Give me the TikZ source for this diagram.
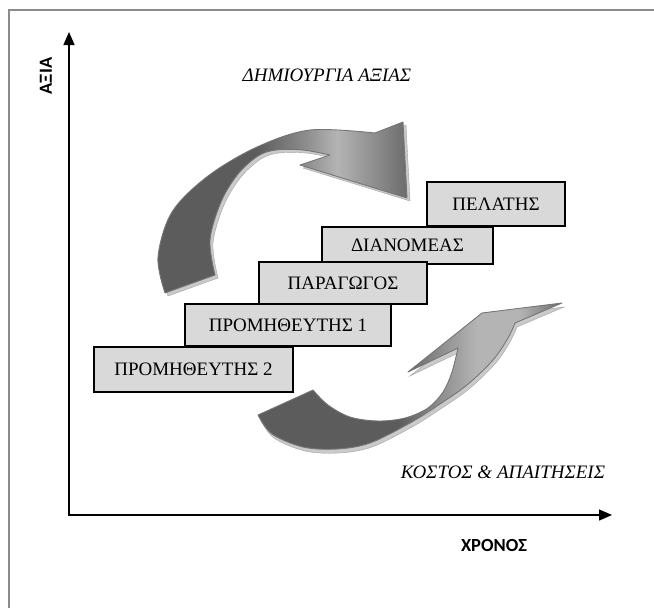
\documentclass[tikz,border=0pt]{standalone}
\usepackage{fontspec}
\setmainfont{Liberation Serif}
\newfontfamily\axisfont{Carlito}
\usetikzlibrary{arrows.meta,shadows}

% ribbon colours
\definecolor{ribdark}{HTML}{5C5C5C}
\definecolor{ribmid}{HTML}{8E8E8E}
\definecolor{riblight}{HTML}{B4B4B4}
\definecolor{ribend}{HTML}{6C6C6C}
\definecolor{ribside}{HTML}{CACACA}
\definecolor{riboutline}{HTML}{767676}
\definecolor{boxfill}{HTML}{D9D9D9}
\definecolor{framegray}{HTML}{8C8C8C}

% left-to-right shadings for the two ribbons (path box = 25bp..75bp)
\pgfdeclarehorizontalshading{upperribbon}{100bp}{%
  color(0bp)=(ribdark); color(25bp)=(ribdark); color(45bp)=(ribdark);
  color(55bp)=(ribmid); color(61bp)=(riblight); color(75bp)=(ribend);
  color(100bp)=(ribend)}
\pgfdeclarehorizontalshading{lowerribbon}{100bp}{%
  color(0bp)=(ribdark); color(25bp)=(ribdark); color(48bp)=(ribdark);
  color(55bp)=(ribmid); color(61bp)=(riblight); color(68bp)=(riblight);
  color(75bp)=(ribend); color(100bp)=(ribend)}

\tikzset{
  frameline/.style={draw=framegray, line width=2pt},
  axisline/.style={draw=black, line width=1.4pt, -{Triangle[length=13pt,width=11pt]}},
  axislabel/.style={font=\axisfont\bfseries\fontsize{18.5}{22}\selectfont},
  tagline/.style={font=\itshape\fontsize{19}{23}\selectfont},
  stagebox/.style={draw=black, line width=1.5pt, fill=boxfill,
    font=\fontsize{19}{22}\selectfont, inner sep=0pt,
    drop shadow={shadow xshift=1.3pt, shadow yshift=-1.3pt, fill=black!75, opacity=1}},
  ribbonside/.style={fill=ribside, draw=ribside!80!black, line width=0.4pt},
  ribbon/.style={draw=riboutline, line width=0.9pt, line join=round},
}

\begin{document}
\begin{tikzpicture}[x=1pt, y=-1pt]
  \useasboundingbox (0,0) rectangle (654,608);

  % page frame (top and left edges)
  \draw[frameline] (9,608) -- (9,10) -- (654,10);

  % axes
  \coordinate (origin) at (69,515);
  \coordinate (ytip) at (69,32);
  \coordinate (xtip) at (612,515);
  \draw[axisline] (origin) -- (ytip);
  \draw[axisline] (68,515) -- (xtip);

  \node[axislabel, rotate=90] (ylab) at (46,76) {ΑΞΙΑ};
  \node[axislabel] (xlab) at (494,545) {ΧΡΟΝΟΣ};

  \node[tagline] (value) at (327,75) {ΔΗΜΙΟΥΡΓΙΑ ΑΞΙΑΣ};
  \node[tagline] (cost) at (503,472) {ΚΟΣΤΟΣ \& ΑΠΑΙΤΗΣΕΙΣ};

  % upper curved ribbon arrow (value creation)
  \def\upperribbon{
    plot[smooth, tension=0.55] coordinates {(165,293) (158,257) (172,212) (208,176) (257,147) (310,130) (375,133)}
    -- (403,122) -- (407,198) -- (300,165) -- (330,155)
    -- plot[smooth, tension=0.55] coordinates {(330,155) (303,150) (276,150) (258,156) (238,174) (221,202) (210,240) (215,275)}
    -- cycle}
  \fill[ribbonside, shift={(3pt,-3pt)}] \upperribbon;
  \shade[shading=upperribbon, ribbon] \upperribbon;

  % lower curved ribbon arrow (cost and requirements)
  \def\lowerribbon{
    plot[smooth, tension=0.55] coordinates {(258,415) (272,434) (303,447) (337,449) (370,443) (410,423) (440,404) (467,385) (493,360) (508,338) (515,323)}
    -- (562,303) -- (482,313) -- (408,372) -- (458,348)
    -- plot[smooth, tension=0.55] coordinates {(458,348) (452,372) (443,392) (428,408) (405,418) (378,421) (350,417) (328,405) (313,390)}
    -- cycle}
  \fill[ribbonside, shift={(2pt,-4pt)}] \lowerribbon;
  \shade[shading=lowerribbon, ribbon] \lowerribbon;

  % supply-chain stages
  \node[stagebox, minimum width=138pt, minimum height=44pt] (customer) at (496,204) {ΠΕΛΑΤΗΣ};
  \node[stagebox, minimum width=171pt, minimum height=37pt] (distributor) at (407.5,245.5) {ΔΙΑΝΟΜΕΑΣ};
  \node[stagebox, minimum width=168pt, minimum height=42pt] (producer) at (343,283) {ΠΑΡΑΓΩΓΟΣ};
  \node[stagebox, minimum width=206pt, minimum height=42pt] (supplierone) at (288,325) {ΠΡΟΜΗΘΕΥΤΗΣ 1};
  \node[stagebox, minimum width=199pt, minimum height=45pt] (suppliertwo) at (193.5,369.5) {ΠΡΟΜΗΘΕΥΤΗΣ 2};
\end{tikzpicture}
\end{document}
